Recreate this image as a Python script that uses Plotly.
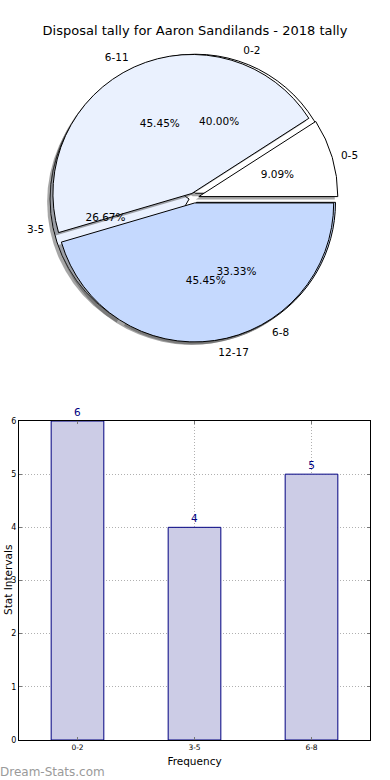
import plotly.graph_objects as go

# ---------------- data ----------------
chart_title = "Disposal tally for Aaron Sandilands - 2018 tally"
pie1_labels = ["0-2", "3-5", "6-8"]
pie1_values = [6, 4, 5]
pie2_labels = ["0-5", "6-11", "12-17"]
pie2_values = [1, 5, 5]
bar_categories = ["0-2", "3-5", "6-8"]
bar_values = [6, 4, 5]
y_tick_values = [0, 1, 2, 3, 4, 5, 6]
x_title = "Frequency"
y_title = "Stat Intervals"
watermark = "Dream-Stats.com"

# ---------------- styles / layout ----------------
W, H = 390, 780
FONT = "DejaVu Sans"
slice_colors = ["#FFFFFF", "#EAF1FE", "#C5D9FE"]
shadow_color = "rgba(77,77,77,0.5)"
clear = "rgba(0,0,0,0)"
CX, CY = 194, 198      # pie centre (px)
R = 139                # pie radius (px)
PULL_PX = 5            # explode offset (px)


def dom(r, dx=0, dy=0):
    pull = PULL_PX / r
    half = r * (1 + pull)
    return dict(x=[(CX + dx - half) / W, (CX + dx + half) / W],
                y=[1 - (CY + dy + half) / H, 1 - (CY + dy - half) / H])


def pie(labels, values, r, dx=0, dy=0, colors=None, line=True, **kw):
    # first slice starts at 3 o'clock and slices run counter-clockwise
    # (plotly's counterclockwise mode ends the first slice at `rotation`)
    rot = 90 - 360.0 * values[0] / sum(values)
    return go.Pie(
        labels=labels, values=values, sort=False, direction="counterclockwise",
        rotation=rot, pull=PULL_PX / r, domain=dom(r, dx, dy),
        marker=dict(colors=colors if colors else [clear] * len(values),
                    line=dict(color="black" if line else clear, width=1 if line else 0)),
        showlegend=False, hoverinfo="skip", **kw)


fig = go.Figure()
txtfont = dict(family=FONT, size=10.5, color="black")

# pie 1 (with shadow)
fig.add_trace(pie(pie1_labels, pie1_values, R, dx=-3, dy=3,
                  colors=[shadow_color] * 3, line=False, textinfo="none"))
fig.add_trace(pie(pie1_labels, pie1_values, R, colors=slice_colors, textinfo="none"))
# pie 2 (with shadow)
fig.add_trace(pie(pie2_labels, pie2_values, R, dx=-3, dy=3,
                  colors=[shadow_color] * 3, line=False, textinfo="none"))
fig.add_trace(pie(pie2_labels, pie2_values, R, colors=slice_colors, textinfo="none"))

# percentage texts (transparent text-only pies)
fig.add_trace(pie(pie1_labels, pie1_values, 149, line=False,
                  texttemplate="%{percent:.2%}", textposition="inside",
                  insidetextorientation="horizontal", insidetextfont=txtfont))
fig.add_trace(pie(pie2_labels, pie2_values, 154, line=False,
                  texttemplate="%{percent:.2%}", textposition=["none", "inside", "inside"],
                  insidetextorientation="horizontal", insidetextfont=txtfont))
fig.add_trace(pie(pie2_labels, pie2_values, 105, line=False,
                  texttemplate="%{percent:.2%}", textposition=["inside", "none", "none"],
                  insidetextorientation="horizontal", insidetextfont=txtfont))

# outside labels
fig.add_trace(pie(pie1_labels, pie1_values, 145, line=False, textinfo="label",
                  textposition="outside", outsidetextfont=txtfont))
fig.add_trace(pie(pie2_labels, pie2_values, 145, line=False, textinfo="label",
                  textposition="outside", outsidetextfont=txtfont))

# bar chart
fig.add_trace(go.Bar(
    x=bar_categories, y=bar_values, width=0.45,
    marker=dict(color="rgb(204,204,230)", line=dict(color="#000080", width=1)),
    text=bar_values, textposition="outside", cliponaxis=False,
    textfont=dict(family=FONT, size=10.5, color="#000080"),
    showlegend=False, hoverinfo="skip"))

axis_common = dict(
    showgrid=True, griddash="1px,2px", gridcolor="#b0b0b0", gridwidth=1,
    showline=True, mirror="ticks", linecolor="black", linewidth=1,
    ticks="inside", ticklen=3, tickcolor="#777777",
    zeroline=False, automargin=False, fixedrange=True,
)

fig.update_layout(
    width=W, height=H, template="none",
    margin=dict(l=0, r=0, t=0, b=0),
    paper_bgcolor="white", plot_bgcolor="white",
    font=dict(family=FONT, color="black"),
    title=dict(text=chart_title, x=0.5, xanchor="center", y=1 - 30 / H, yanchor="middle",
               font=dict(family=FONT, size=13, color="black")),
    xaxis=dict(domain=[19 / W, 370 / W], type="category", range=[-0.5, 2.5],
               tickfont=dict(family=FONT, size=7.5, color="black"),
               title=dict(text=x_title, standoff=6, font=dict(family=FONT, size=10.5)),
               **axis_common),
    yaxis=dict(domain=[1 - 740 / H, 1 - 421 / H], range=[0, 6], tickvals=y_tick_values,
               tickfont=dict(family=FONT, size=8, color="black"),
               **axis_common),
    annotations=[
        dict(text=y_title, xref="paper", yref="paper", x=0, y=1 - 580 / H,
             xanchor="left", yanchor="middle", textangle=-90, showarrow=False,
             font=dict(family=FONT, size=10.5, color="black")),
        dict(text=watermark, xref="paper", yref="paper", x=-0.006, y=1 - 772 / H,
             xanchor="left", yanchor="middle", showarrow=False,
             font=dict(family=FONT, size=12, color="#9a9a9a")),
    ],
)

fig.write_html("out.html", config={"displayModeBar": False},
               post_script="document.body.style.margin='0';document.body.style.overflow='hidden';")
